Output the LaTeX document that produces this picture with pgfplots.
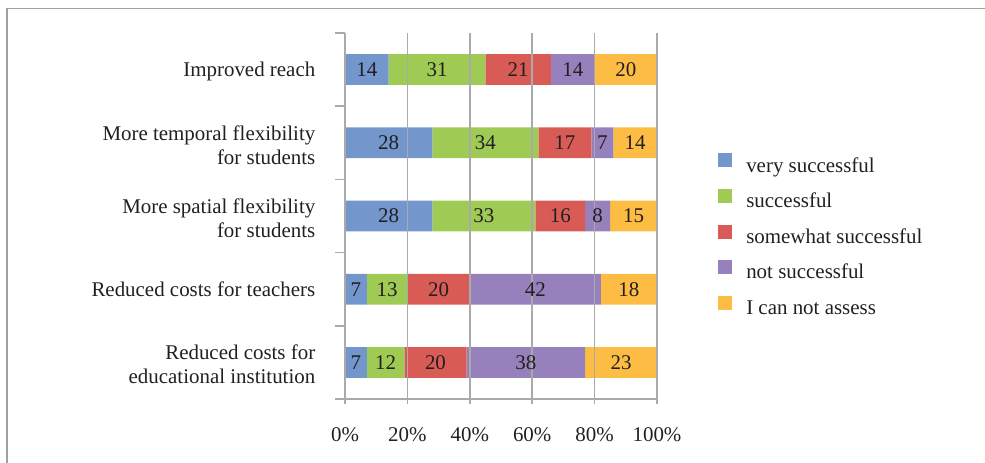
\documentclass[border=0pt]{standalone}
\usepackage{pgfplots}
\usepackage{pgfplotstable}
\pgfplotsset{compat=1.18}
\usepackage{fontspec}
\setmainfont{Liberation Serif}

\definecolor{cBlue}{RGB}{115,150,205}
\definecolor{cGreen}{RGB}{159,203,84}
\definecolor{cRed}{RGB}{216,92,85}
\definecolor{cPurple}{RGB}{150,129,189}
\definecolor{cOrange}{RGB}{253,189,69}
\definecolor{cLine}{RGB}{170,170,170}
\definecolor{cFrame}{RGB}{160,160,160}
\definecolor{cText}{RGB}{35,31,32}

% Share of answers per goal (percent)
\pgfplotstableread{
cat vs su sw ns na
0   7  12 20 38 23
1   7  13 20 42 18
2   28 33 16 8  15
3   28 34 17 7  14
4   14 31 21 14 20
}\goals

\newcommand\lblfont{\fontsize{15.7}{18}\selectfont}

\begin{document}
\begin{tikzpicture}[x=0.75pt,y=-0.75pt]
\useasboundingbox (0,0) rectangle (985,462);
\draw[cFrame, line width=1.3pt] (7,470) -- (7,8.5) -- (990,8.5);
\begin{axis}[
  at={(258.75pt,-299.25pt)}, anchor=south west,
  scale only axis, width=234pt, height=274.5pt,
  xmin=0, xmax=100, ymin=-0.5, ymax=4.5,
  xbar stacked, bar width=0.42,
  axis x line*=bottom, axis y line*=left,
  axis line style={cLine, line width=1.1pt},
  tick align=outside,
  major tick length=3.75pt, minor tick length=7.5pt,
  every tick/.style={cLine, line width=1.1pt},
  major y tick style={draw=none},
  xtick={0,20,...,100},
  xticklabel={\pgfmathprintnumber{\tick}\%},
  /pgf/number format/assume math mode=true,
  ytick={0,...,4},
  minor ytick={-0.5,0.5,...,4.5},
  yticklabels={{Reduced costs for\\educational institution},
               {\strut Reduced costs for teachers},
               {More spatial flexibility\\for students},
               {More temporal flexibility\\for students},
               {\strut Improved reach}},
  yticklabel style={align=right, font=\lblfont, text=cText, xshift=-15pt, yshift=-1.5pt},
  xticklabel style={font=\lblfont, text=cText, yshift=-14.25pt},
  xmajorgrids, grid style={cLine, line width=1.1pt},
  axis on top,
  point meta=explicit symbolic,
  nodes near coords,
  every node near coord/.append style={anchor=center, font=\lblfont, text=cText},
  legend style={at={(1.1827,0.679)}, anchor=north west, draw=none, fill=none,
     font=\lblfont, text=cText,
     nodes={inner sep=0pt, text height=11pt, text depth=4pt},
     /tikz/every odd column/.append style={column sep=10.5pt},
     row sep=8.7pt},
  legend cell align=left,
  legend image code/.code={\fill[#1] (0pt,0pt) rectangle (10.5pt,10.5pt);},
]
\addplot[fill=cBlue, draw=none] table[x=vs, y=cat, meta=vs] {\goals};
\addplot[fill=cGreen, draw=none] table[x=su, y=cat, meta=su] {\goals};
\addplot[fill=cRed, draw=none] table[x=sw, y=cat, meta=sw] {\goals};
\addplot[fill=cPurple, draw=none] table[x=ns, y=cat, meta=ns] {\goals};
\addplot[fill=cOrange, draw=none] table[x=na, y=cat, meta=na] {\goals};
\legend{very successful, successful, somewhat successful, not successful, I can not assess}
\end{axis}
\end{tikzpicture}
\end{document}
